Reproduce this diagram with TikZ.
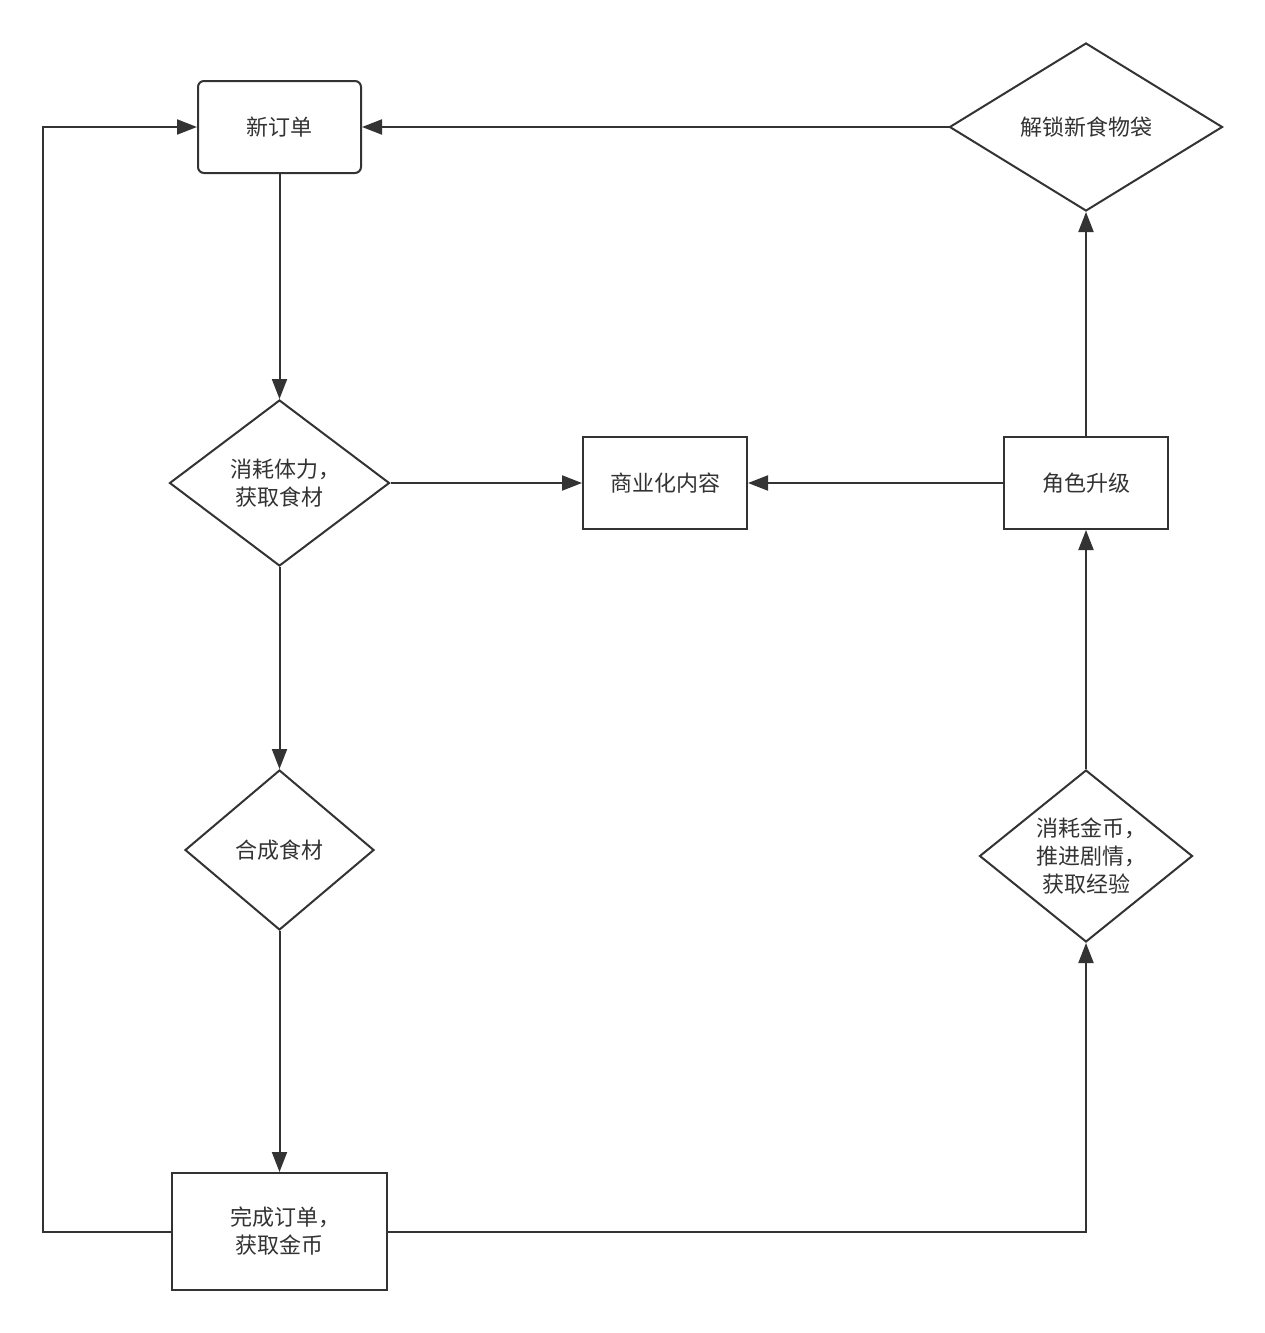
\documentclass[tikz,border=0pt]{standalone}
\usepackage{fontspec}
\setmainfont{Noto Sans CJK SC}
\usetikzlibrary{shapes.geometric,arrows.meta}
\definecolor{ln}{HTML}{333333}
\definecolor{tx}{HTML}{333333}
\newcommand\zhcomma{\makebox[0.5em][l]{，}}
\tikzset{
  base/.style={draw=ln, line width=2pt, fill=white, inner sep=0pt, text=tx, align=center, font=\fontsize{22}{28}\selectfont},
  boxnode/.style={base, rectangle, minimum width=164pt, minimum height=92pt},
  decision/.style={base, diamond},
  conn/.style={draw=ln, line width=2pt, -{Triangle[length=20pt,width=15pt]}}
}
\begin{document}
\begin{tikzpicture}[x=1pt,y=-1pt]
\path[use as bounding box, fill=white] (0,0) rectangle (1265,1333);

\node[boxnode, rounded corners=6pt, minimum width=163pt] (neworder) at (279.5,127) {新订单};
\node[decision, minimum width=273pt, minimum height=168pt] (unlock) at (1086,127) {解锁新食物袋};
\node[decision, minimum width=220pt, minimum height=166pt] (gather) at (279.5,483) {消耗体力\zhcomma\\获取食材};
\node[boxnode] (biz) at (665,483) {商业化内容};
\node[boxnode] (role) at (1086,483) {角色升级};
\node[decision, minimum width=189pt, minimum height=160pt] (synth) at (279.5,850) {合成食材};
\node[decision, aspect=1.24, minimum width=213pt, minimum height=172pt] (coin) at (1086,856) {消耗金币\zhcomma\\推进剧情\zhcomma\\获取经验};
\node[boxnode, minimum width=215pt, minimum height=117pt] (done) at (279.5,1231.5) {完成订单\zhcomma\\获取金币};

\coordinate (loopc) at (43,1231.5);

\draw[conn] (neworder.south) -- (gather.north);
\draw[conn] (gather.east) -- (biz.west);
\draw[conn] (role.west) -- (biz.east);
\draw[conn] (gather.south) -- (synth.north);
\draw[conn] (synth.south) -- (done.north);
\draw[conn] (done.west) -- (loopc) |- (neworder.west);
\draw[conn] (done.east) -| (coin.south);
\draw[conn] (coin.north) -- (role.south);
\draw[conn] (role.north) -- (unlock.south);
\draw[conn] (unlock.west) -- (neworder.east);
\end{tikzpicture}
\end{document}
